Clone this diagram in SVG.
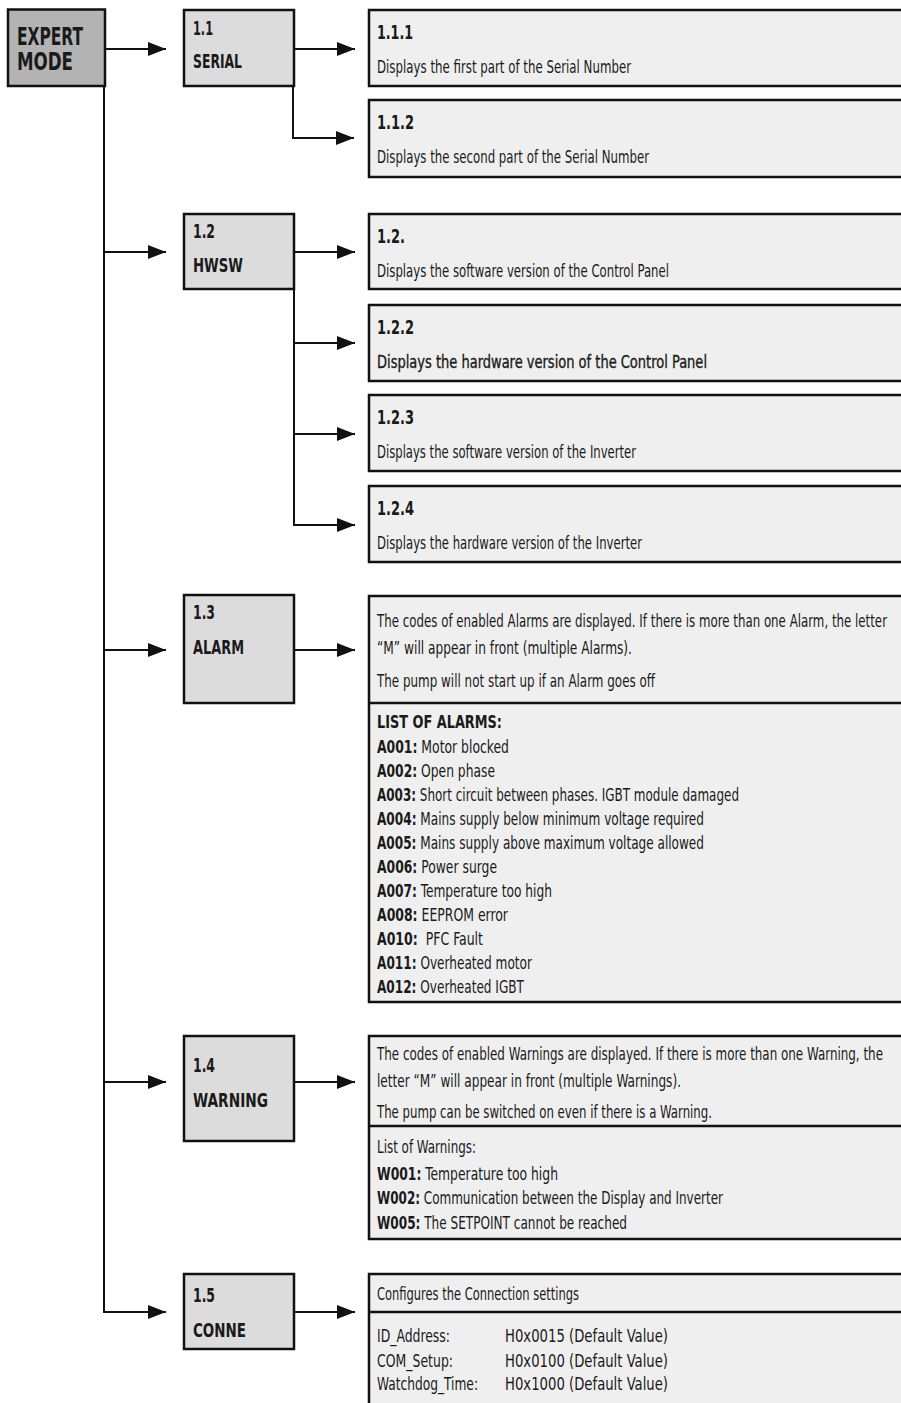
<svg xmlns="http://www.w3.org/2000/svg" width="901" height="1403" viewBox="0 0 901 1403">
<style>
text{font-family:"DejaVu Sans Condensed","DejaVu Sans","Liberation Sans",sans-serif;fill:#1a1a1a}
.top{fill:#b3b3b3;stroke:#111;stroke-width:2.5}
.mid{fill:#dcdcdc;stroke:#111;stroke-width:2.5}
.det{fill:#efefef;stroke:#111;stroke-width:2.5}
.div{stroke:#111;stroke-width:2.5;fill:none}
.big{font-size:25px;font-weight:bold}
.lbl{font-size:20px;font-weight:bold}
.ttl{font-size:20px;font-weight:bold}
.txt{font-size:18px}
.b{font-weight:bold}
.hw{stroke:#1a1a1a;stroke-width:0.35}
.con{stroke:#111;stroke-width:2;fill:none}
</style>
<defs>
<marker id="ah" markerUnits="userSpaceOnUse" markerWidth="18" markerHeight="14" refX="18" refY="7" orient="auto">
<path d="M0,0 L18,7 L0,14 z" fill="#111"/>
</marker>
</defs>

<g id="connectors">
<path class="con" d="M105,49 H166" marker-end="url(#ah)"/>
<path class="con" d="M104,86 V1312 H166" marker-end="url(#ah)"/>
<path class="con" d="M104,252 H166" marker-end="url(#ah)"/>
<path class="con" d="M104,650 H166" marker-end="url(#ah)"/>
<path class="con" d="M104,1082 H166" marker-end="url(#ah)"/>
<path class="con" d="M294,49 H355" marker-end="url(#ah)"/>
<path class="con" d="M293,86 V138 H354" marker-end="url(#ah)"/>
<path class="con" d="M294,252 H355" marker-end="url(#ah)"/>
<path class="con" d="M294,289 V525 H355" marker-end="url(#ah)"/>
<path class="con" d="M294,343 H355" marker-end="url(#ah)"/>
<path class="con" d="M294,434 H355" marker-end="url(#ah)"/>
<path class="con" d="M294,650 H355" marker-end="url(#ah)"/>
<path class="con" d="M294,1082 H355" marker-end="url(#ah)"/>
<path class="con" d="M294,1312 H355" marker-end="url(#ah)"/>
</g>

<g id="expert">
<rect class="top" x="8" y="9.5" width="97" height="76.5"/>
<text class="big" x="17" y="45" textLength="66" lengthAdjust="spacingAndGlyphs">EXPERT</text>
<text class="big" x="17" y="70" textLength="56" lengthAdjust="spacingAndGlyphs">MODE</text>
</g>

<g id="n1_1">
<rect class="mid" x="184" y="10" width="110" height="76"/>
<text class="lbl" x="193" y="35" textLength="20" lengthAdjust="spacingAndGlyphs">1.1</text>
<text class="lbl" x="193" y="68" textLength="49" lengthAdjust="spacingAndGlyphs">SERIAL</text>
</g>
<g id="n1_1_1">
<rect class="det" x="369" y="10" width="540" height="76"/>
<text class="ttl" x="377" y="39" textLength="36" lengthAdjust="spacingAndGlyphs">1.1.1</text>
<text class="txt" x="377" y="73" textLength="254" lengthAdjust="spacingAndGlyphs">Displays the first part of the Serial Number</text>
</g>
<g id="n1_1_2">
<rect class="det" x="369" y="100" width="540" height="77"/>
<text class="ttl" x="377" y="129" textLength="37" lengthAdjust="spacingAndGlyphs">1.1.2</text>
<text class="txt" x="377" y="163" textLength="272" lengthAdjust="spacingAndGlyphs">Displays the second part of the Serial Number</text>
</g>

<g id="n1_2">
<rect class="mid" x="184" y="214" width="110" height="75"/>
<text class="lbl" x="193" y="238" textLength="22" lengthAdjust="spacingAndGlyphs">1.2</text>
<text class="lbl" x="193" y="272" textLength="50" lengthAdjust="spacingAndGlyphs">HWSW</text>
</g>
<g id="n1_2_1">
<rect class="det" x="369" y="214" width="540" height="75"/>
<text class="ttl" x="377" y="243" textLength="28" lengthAdjust="spacingAndGlyphs">1.2.</text>
<text class="txt" x="377" y="277" textLength="292" lengthAdjust="spacingAndGlyphs">Displays the software version of the Control Panel</text>
</g>
<g id="n1_2_2">
<rect class="det" x="369" y="305" width="540" height="76"/>
<text class="ttl" x="377" y="334" textLength="37" lengthAdjust="spacingAndGlyphs">1.2.2</text>
<text class="txt hw" x="377" y="368" textLength="330" lengthAdjust="spacingAndGlyphs">Displays the hardware version of the Control Panel</text>
</g>
<g id="n1_2_3">
<rect class="det" x="369" y="395" width="540" height="76"/>
<text class="ttl" x="377" y="424" textLength="37" lengthAdjust="spacingAndGlyphs">1.2.3</text>
<text class="txt" x="377" y="458" textLength="259" lengthAdjust="spacingAndGlyphs">Displays the software version of the Inverter</text>
</g>
<g id="n1_2_4">
<rect class="det" x="369" y="486" width="540" height="76"/>
<text class="ttl" x="377" y="515" textLength="37" lengthAdjust="spacingAndGlyphs">1.2.4</text>
<text class="txt" x="377" y="549" textLength="265" lengthAdjust="spacingAndGlyphs">Displays the hardware version of the Inverter</text>
</g>

<g id="n1_3">
<rect class="mid" x="184" y="595" width="110" height="108"/>
<text class="lbl" x="193" y="619" textLength="22" lengthAdjust="spacingAndGlyphs">1.3</text>
<text class="lbl" x="193" y="654" textLength="51" lengthAdjust="spacingAndGlyphs">ALARM</text>
</g>
<g id="n1_3_d">
<rect class="det" x="369" y="596" width="540" height="406"/>
<line class="div" x1="369" y1="703" x2="909" y2="703"/>
<text class="txt" x="377" y="627" textLength="510" lengthAdjust="spacingAndGlyphs">The codes of enabled Alarms are displayed. If there is more than one Alarm, the letter</text>
<text class="txt" x="377" y="654" textLength="255" lengthAdjust="spacingAndGlyphs">“M” will appear in front (multiple Alarms).</text>
<text class="txt" x="377" y="687" textLength="278" lengthAdjust="spacingAndGlyphs">The pump will not start up if an Alarm goes off</text>
<text class="txt b" x="377" y="728" textLength="125" lengthAdjust="spacingAndGlyphs">LIST OF ALARMS:</text>
<text class="txt" x="377" y="753" textLength="132" lengthAdjust="spacingAndGlyphs"><tspan class="b">A001:</tspan> Motor blocked</text>
<text class="txt" x="377" y="777" textLength="118" lengthAdjust="spacingAndGlyphs"><tspan class="b">A002:</tspan> Open phase</text>
<text class="txt" x="377" y="801" textLength="362" lengthAdjust="spacingAndGlyphs"><tspan class="b">A003:</tspan> Short circuit between phases. IGBT module damaged</text>
<text class="txt" x="377" y="825" textLength="327" lengthAdjust="spacingAndGlyphs"><tspan class="b">A004:</tspan> Mains supply below minimum voltage required</text>
<text class="txt" x="377" y="849" textLength="327" lengthAdjust="spacingAndGlyphs"><tspan class="b">A005:</tspan> Mains supply above maximum voltage allowed</text>
<text class="txt" x="377" y="873" textLength="120" lengthAdjust="spacingAndGlyphs"><tspan class="b">A006:</tspan> Power surge</text>
<text class="txt" x="377" y="897" textLength="175" lengthAdjust="spacingAndGlyphs"><tspan class="b">A007:</tspan> Temperature too high</text>
<text class="txt" x="377" y="921" textLength="131" lengthAdjust="spacingAndGlyphs"><tspan class="b">A008:</tspan> EEPROM error</text>
<text class="txt" x="377" y="945" textLength="106" lengthAdjust="spacingAndGlyphs" xml:space="preserve"><tspan class="b">A010:</tspan>  PFC Fault</text>
<text class="txt" x="377" y="969" textLength="155" lengthAdjust="spacingAndGlyphs"><tspan class="b">A011:</tspan> Overheated motor</text>
<text class="txt" x="377" y="993" textLength="147" lengthAdjust="spacingAndGlyphs"><tspan class="b">A012:</tspan> Overheated IGBT</text>
</g>

<g id="n1_4">
<rect class="mid" x="184" y="1036" width="110" height="105"/>
<text class="lbl" x="193" y="1072" textLength="22" lengthAdjust="spacingAndGlyphs">1.4</text>
<text class="lbl" x="193" y="1107" textLength="75" lengthAdjust="spacingAndGlyphs">WARNING</text>
</g>
<g id="n1_4_d">
<rect class="det" x="369" y="1036" width="540" height="203"/>
<line class="div" x1="369" y1="1126" x2="909" y2="1126"/>
<text class="txt" x="377" y="1060" textLength="506" lengthAdjust="spacingAndGlyphs">The codes of enabled Warnings are displayed. If there is more than one Warning, the</text>
<text class="txt" x="377" y="1087" textLength="304" lengthAdjust="spacingAndGlyphs">letter “M” will appear in front (multiple Warnings).</text>
<text class="txt" x="377" y="1118" textLength="335" lengthAdjust="spacingAndGlyphs">The pump can be switched on even if there is a Warning.</text>
<text class="txt" x="377" y="1153" textLength="99" lengthAdjust="spacingAndGlyphs">List of Warnings:</text>
<text class="txt" x="377" y="1180" textLength="181" lengthAdjust="spacingAndGlyphs"><tspan class="b">W001:</tspan> Temperature too high</text>
<text class="txt" x="377" y="1204" textLength="346" lengthAdjust="spacingAndGlyphs"><tspan class="b">W002:</tspan> Communication between the Display and Inverter</text>
<text class="txt" x="377" y="1229" textLength="250" lengthAdjust="spacingAndGlyphs"><tspan class="b">W005:</tspan> The SETPOINT cannot be reached</text>
</g>

<g id="n1_5">
<rect class="mid" x="184" y="1274" width="110" height="75"/>
<text class="lbl" x="193" y="1302" textLength="22" lengthAdjust="spacingAndGlyphs">1.5</text>
<text class="lbl" x="193" y="1337" textLength="53" lengthAdjust="spacingAndGlyphs">CONNE</text>
</g>
<g id="n1_5_d">
<rect class="det" x="369" y="1274" width="540" height="140"/>
<line class="div" x1="369" y1="1312" x2="909" y2="1312"/>
<text class="txt" x="377" y="1300" textLength="202" lengthAdjust="spacingAndGlyphs">Configures the Connection settings</text>
<text class="txt" x="377" y="1342" textLength="73" lengthAdjust="spacingAndGlyphs">ID_Address:</text>
<text class="txt" x="505" y="1342" textLength="163" lengthAdjust="spacingAndGlyphs">H0x0015 (Default Value)</text>
<text class="txt" x="377" y="1367" textLength="76" lengthAdjust="spacingAndGlyphs">COM_Setup:</text>
<text class="txt" x="505" y="1367" textLength="163" lengthAdjust="spacingAndGlyphs">H0x0100 (Default Value)</text>
<text class="txt" x="377" y="1390" textLength="101" lengthAdjust="spacingAndGlyphs">Watchdog_Time:</text>
<text class="txt" x="505" y="1390" textLength="163" lengthAdjust="spacingAndGlyphs">H0x1000 (Default Value)</text>
</g>
</svg>
